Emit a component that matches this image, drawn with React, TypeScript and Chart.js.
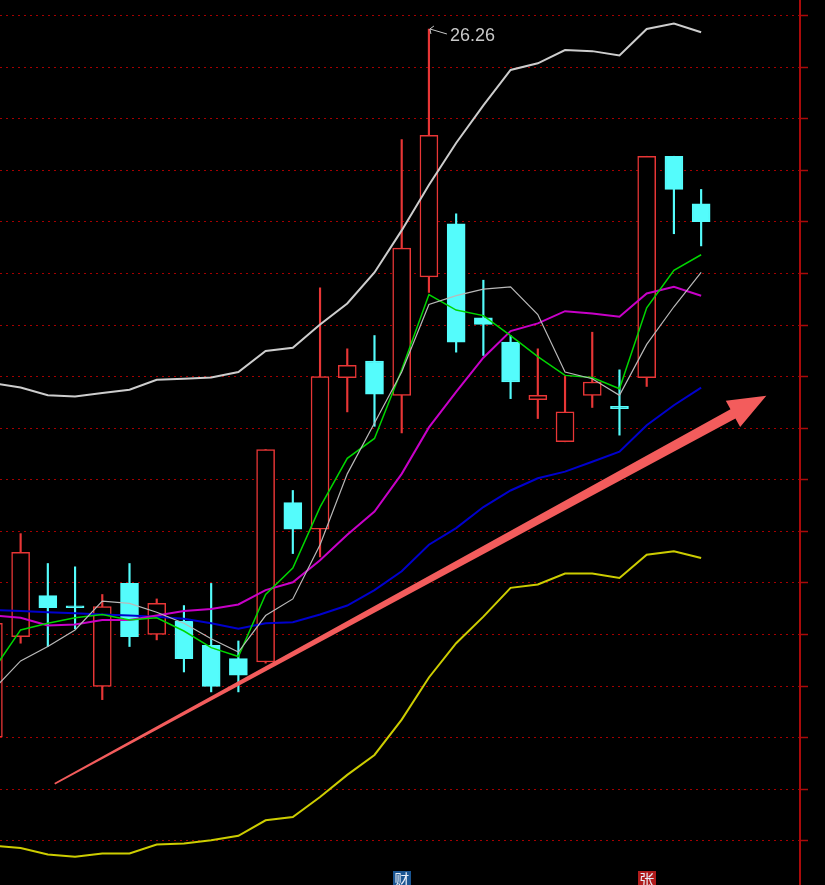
import React, { useEffect, useRef } from "react";
import { Chart, registerables } from "chart.js";

Chart.register(...registerables);

// ---- Candles (27 trading days, price in CNY) ----
const CANDLE_OPEN = [19.86, 20.77, 21.14, 21.04, 20.32, 21.25, 20.79, 20.91, 20.69, 20.57, 20.54, 21.98, 21.74, 23.11, 23.26, 22.95, 24.02, 24.5, 23.65, 23.43, 22.91, 22.53, 22.95, 22.85, 23.11, 25.11, 24.68];
const CANDLE_HIGH = [20.89, 21.7, 21.43, 21.4, 21.15, 21.43, 21.11, 21.05, 21.25, 20.73, 22.46, 22.09, 23.92, 23.37, 23.49, 25.26, 26.26, 24.59, 23.99, 23.49, 23.37, 23.12, 23.52, 23.18, 25.11, 25.11, 24.81];
const CANDLE_LOW = [19.86, 20.71, 20.68, 20.84, 20.2, 20.68, 20.74, 20.45, 20.27, 20.27, 20.53, 21.52, 21.49, 22.8, 22.67, 22.61, 23.88, 23.34, 23.31, 22.92, 22.74, 22.53, 22.84, 22.59, 23.03, 24.41, 24.3];
const CANDLE_CLOSE = [20.89, 21.53, 21.03, 21.03, 21.04, 20.77, 21.07, 20.57, 20.32, 20.42, 22.46, 21.74, 23.12, 23.22, 22.96, 24.28, 25.3, 23.43, 23.59, 23.07, 22.95, 22.8, 23.07, 22.83, 25.11, 24.81, 24.52];

// ---- Indicator lines ----
const BOLL_UPPER = [23.06, 23.02, 22.95, 22.94, 22.97, 23.0, 23.09, 23.1, 23.11, 23.16, 23.35, 23.38, 23.59, 23.78, 24.06, 24.44, 24.85, 25.23, 25.57, 25.89, 25.95, 26.07, 26.06, 26.02, 26.26, 26.31, 26.23];
const BOLL_MID = [20.96, 20.94, 20.87, 20.88, 20.92, 20.92, 20.96, 21.0, 21.02, 21.06, 21.19, 21.26, 21.46, 21.69, 21.9, 22.24, 22.66, 22.98, 23.29, 23.53, 23.6, 23.71, 23.69, 23.66, 23.87, 23.93, 23.85];
const BOLL_LOWER = [18.88, 18.86, 18.8, 18.78, 18.81, 18.81, 18.89, 18.9, 18.93, 18.97, 19.11, 19.14, 19.32, 19.52, 19.7, 20.02, 20.4, 20.71, 20.95, 21.21, 21.24, 21.34, 21.34, 21.3, 21.51, 21.54, 21.48];
const MA_GREEN = [20.47, 20.83, 20.89, 20.94, 20.97, 20.92, 20.94, 20.82, 20.67, 20.59, 21.15, 21.39, 21.94, 22.38, 22.56, 23.18, 23.86, 23.72, 23.67, 23.49, 23.3, 23.13, 23.11, 23.01, 23.74, 24.08, 24.22];
const MA_GRAY = [20.29, 20.55, 20.68, 20.83, 21.09, 21.07, 20.99, 20.89, 20.75, 20.63, 20.96, 21.11, 21.6, 22.24, 22.7, 23.16, 23.77, 23.85, 23.91, 23.93, 23.68, 23.16, 23.1, 22.95, 23.41, 23.75, 24.06];
const MA_BLUE = [21.01, 21.0, 20.99, 20.98, 20.97, 20.96, 20.95, 20.93, 20.89, 20.84, 20.89, 20.9, 20.97, 21.05, 21.19, 21.36, 21.6, 21.75, 21.94, 22.09, 22.2, 22.26, 22.35, 22.44, 22.68, 22.86, 23.02];

// ---- Axis ----
const Y_TICKS = [26.38, 25.914, 25.448, 24.982, 24.516, 24.05, 23.585, 23.119, 22.653, 22.187, 21.721, 21.255, 20.789, 20.323, 19.857, 19.391, 18.926];
const Y_MIN = 18.525;
const Y_MAX = 26.522;
const X_MIN = 0.2425;
const X_MAX = 29.632;

// ---- Annotations ----
const MARKER_INDEX = [15, 24];
const MARKER_TEXT = ["财", "张"];
const MARKER_BG = ["#1a5592", "#b01c1c"];
const ARROW_FROM = [2.252, 19.44];
const ARROW_TO = [28.395, 22.946];

const RED = "rgb(232,54,54)";
const CYAN = "rgb(84,252,252)";
const GRID = "rgb(165,0,0)";
const AXIS = "rgb(170,10,10)";

export default function App() {
  const ref = useRef<HTMLCanvasElement>(null);

  useEffect(() => {
    document.body.style.margin = "0";
    document.body.style.background = "#000";
    const canvas = ref.current!;
    const up = CANDLE_OPEN.map((o, i) => CANDLE_CLOSE[i] >= o);

    const line = (label: string, values: number[], color: string, width: number) => ({
      type: "line" as const,
      label,
      data: values.map((v, i) => ({ x: i, y: v })),
      borderColor: color,
      backgroundColor: color,
      borderWidth: width,
      pointRadius: 0,
      tension: 0,
      fill: false,
      order: 0,
    });

    const bgPlugin = {
      id: "bg",
      beforeDraw(chart: any) {
        const c = chart.ctx;
        c.save();
        c.fillStyle = "#000";
        c.fillRect(0, 0, chart.width, chart.height);
        c.restore();
      },
    };

    const annotPlugin = {
      id: "annot",
      afterDatasetsDraw(chart: any) {
        const c = chart.ctx as CanvasRenderingContext2D;
        const xs = chart.scales.x;
        const ys = chart.scales.y;

        // highest price label
        let hi = 0;
        CANDLE_HIGH.forEach((v, i) => {
          if (v > CANDLE_HIGH[hi]) hi = i;
        });
        const hx = xs.getPixelForValue(hi);
        const hy = ys.getPixelForValue(CANDLE_HIGH[hi]);
        c.save();
        c.strokeStyle = "#c8c8c8";
        c.lineWidth = 1;
        c.beginPath();
        c.moveTo(hx + 1, hy);
        c.lineTo(hx + 18, hy + 5);
        c.moveTo(hx + 1, hy);
        c.lineTo(hx + 5, hy - 3);
        c.moveTo(hx + 1, hy);
        c.lineTo(hx + 2, hy + 5);
        c.stroke();
        c.fillStyle = "#c8c8c8";
        c.font = '18px "Liberation Sans", Arial, sans-serif';
        c.textBaseline = "middle";
        c.textAlign = "left";
        c.fillText(CANDLE_HIGH[hi].toFixed(2), hx + 21, hy + 7);
        c.restore();

        // trend arrow
        const ax0 = xs.getPixelForValue(ARROW_FROM[0]);
        const ay0 = ys.getPixelForValue(ARROW_FROM[1]);
        const ax1 = xs.getPixelForValue(ARROW_TO[0]);
        const ay1 = ys.getPixelForValue(ARROW_TO[1]);
        const dx = ax1 - ax0;
        const dy = ay1 - ay0;
        const len = Math.hypot(dx, dy);
        const ux = dx / len;
        const uy = dy / len;
        const px = -uy;
        const py = ux;
        const headLen = 38;
        const headHalf = 15;
        const w0 = 0.9;
        const w1 = 5.2;
        const bx = ax1 - ux * headLen;
        const by = ay1 - uy * headLen;
        c.save();
        c.fillStyle = "rgb(243,92,92)";
        c.beginPath();
        c.moveTo(ax0 + px * w0, ay0 + py * w0);
        c.lineTo(bx + px * w1, by + py * w1);
        c.lineTo(bx + px * headHalf, by + py * headHalf);
        c.lineTo(ax1, ay1);
        c.lineTo(bx - px * headHalf, by - py * headHalf);
        c.lineTo(bx - px * w1, by - py * w1);
        c.lineTo(ax0 - px * w0, ay0 - py * w0);
        c.closePath();
        c.fill();
        c.restore();

        // event markers at the bottom
        MARKER_INDEX.forEach((mi, k) => {
          const mx = xs.getPixelForValue(mi);
          const top = chart.chartArea.bottom - 14;
          c.save();
          c.fillStyle = MARKER_BG[k];
          c.fillRect(Math.round(mx - 9), top, 18, 18);
          c.fillStyle = "#e8eef8";
          c.font = '15px "Noto Sans CJK SC", sans-serif';
          c.textAlign = "center";
          c.textBaseline = "top";
          c.fillText(MARKER_TEXT[k], mx, top + 1);
          c.restore();
        });
      },
    };

    const chart = new Chart(canvas, {
      type: "bar",
      data: {
        datasets: [
          line("BOLL-UP", BOLL_UPPER, "rgb(205,205,205)", 2),
          line("MA-GRAY", MA_GRAY, "rgb(185,185,185)", 1.2),
          line("MA-GREEN", MA_GREEN, "rgb(0,215,0)", 1.5),
          line("BOLL-MID", BOLL_MID, "rgb(200,0,200)", 2),
          line("MA-BLUE", MA_BLUE, "rgb(0,0,205)", 2),
          line("BOLL-LOW", BOLL_LOWER, "rgb(205,205,0)", 2),
          {
            type: "bar" as const,
            label: "body",
            data: CANDLE_OPEN.map((o, i) => ({ x: i, y: [o, CANDLE_CLOSE[i]] })),
            backgroundColor: up.map((u) => (u ? "#000" : CYAN)),
            borderColor: up.map((u) => (u ? RED : CYAN)),
            borderWidth: 1.5,
            borderSkipped: false,
            barThickness: 18,
            minBarLength: 2,
            grouped: false,
            order: 1,
          } as any,
          {
            type: "bar" as const,
            label: "wick",
            data: CANDLE_LOW.map((l, i) => ({ x: i, y: [l, CANDLE_HIGH[i]] })),
            backgroundColor: up.map((u) => (u ? RED : CYAN)),
            borderWidth: 0,
            barThickness: 1.5,
            grouped: false,
            order: 2,
          } as any,
        ],
      },
      options: {
        responsive: false,
        animation: false,
        events: [],
        layout: { padding: { left: 0, right: 17, top: 0, bottom: 0 } },
        plugins: { legend: { display: false }, tooltip: { enabled: false } },
        scales: {
          x: {
            type: "linear",
            display: false,
            min: X_MIN,
            max: X_MAX,
            offset: false,
            grid: { display: false },
          },
          y: {
            type: "linear",
            position: "right",
            min: Y_MIN,
            max: Y_MAX,
            afterBuildTicks: (s: any) => {
              s.ticks = Y_TICKS.map((v) => ({ value: v }));
            },
            ticks: { display: false },
            grid: {
              color: GRID,
              lineWidth: 1,
              drawTicks: true,
              tickLength: 8,
              tickColor: AXIS,
              tickWidth: 1.5,
              tickBorderDash: [],
            },
            border: { display: true, color: AXIS, width: 2, dash: [2, 4] },
          },
        },
      } as any,
      plugins: [bgPlugin, annotPlugin],
    });

    return () => chart.destroy();
  }, []);

  return <canvas ref={ref} width={825} height={885} style={{ display: "block" }} />;
}
